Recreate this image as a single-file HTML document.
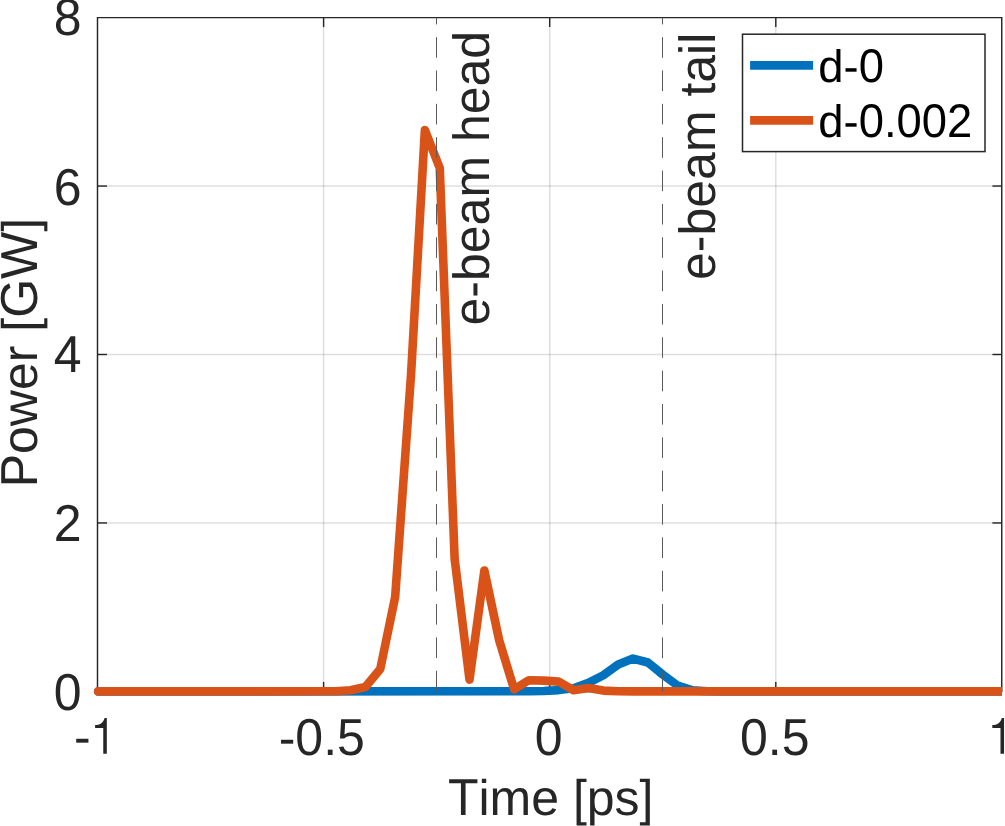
<!DOCTYPE html>
<html><head><meta charset="utf-8"><style>
html,body{margin:0;padding:0;background:#fff;}
body{width:1005px;height:826px;overflow:hidden;}
svg{display:block;}
text{font-family:"Liberation Sans",sans-serif;font-kerning:none;white-space:pre;text-rendering:geometricPrecision;}
</style></head><body>
<svg width="1005" height="826" viewBox="0 0 1005 826">
<rect width="1005" height="826" fill="#fff"/>
<defs><clipPath id="cp"><rect x="0" y="0" width="1001.90" height="826"/></clipPath></defs>

<g stroke="#262626" stroke-opacity="0.15" stroke-width="1.5"><line x1="323.60" y1="17.60" x2="323.60" y2="691.40"/><line x1="549.70" y1="17.60" x2="549.70" y2="691.40"/><line x1="775.80" y1="17.60" x2="775.80" y2="691.40"/><line x1="97.50" y1="522.95" x2="1001.90" y2="522.95"/><line x1="97.50" y1="354.50" x2="1001.90" y2="354.50"/><line x1="97.50" y1="186.05" x2="1001.90" y2="186.05"/></g>
<g stroke="#262626" stroke-width="1.4"><line x1="323.60" y1="691.40" x2="323.60" y2="681.90"/><line x1="323.60" y1="17.60" x2="323.60" y2="27.10"/><line x1="549.70" y1="691.40" x2="549.70" y2="681.90"/><line x1="549.70" y1="17.60" x2="549.70" y2="27.10"/><line x1="775.80" y1="691.40" x2="775.80" y2="681.90"/><line x1="775.80" y1="17.60" x2="775.80" y2="27.10"/><line x1="97.50" y1="522.95" x2="107.00" y2="522.95"/><line x1="1001.90" y1="522.95" x2="992.40" y2="522.95"/><line x1="97.50" y1="354.50" x2="107.00" y2="354.50"/><line x1="1001.90" y1="354.50" x2="992.40" y2="354.50"/><line x1="97.50" y1="186.05" x2="107.00" y2="186.05"/><line x1="1001.90" y1="186.05" x2="992.40" y2="186.05"/></g>
<path d="M97.50,691.40 L97.50,17.60 L1001.75,17.60 L1001.75,691.40 Z" fill="none" stroke="#262626" stroke-width="1.45"/>
<g clip-path="url(#cp)" fill="none" stroke-width="8.6" stroke-linejoin="round" stroke-linecap="round">
<polyline points="98.10,691.40 528.97,691.20 543.84,691.00 558.71,690.10 573.58,688.30 588.45,682.90 603.32,675.20 618.19,664.40 633.06,658.60 647.93,662.50 662.80,674.60 677.67,685.60 692.54,690.40 707.41,691.30 722.28,691.40 1011.90,691.40" stroke="#0072BD"/>
<polyline points="98.10,691.40 335.66,691.30 350.53,690.30 365.40,687.00 380.27,669.00 395.14,597.20 411.05,374.50 424.88,130.00 439.75,168.00 454.62,558.70 469.49,679.60 484.36,570.50 499.23,640.50 514.10,689.30 528.97,680.20 543.84,680.60 558.71,681.60 573.58,690.30 588.45,688.10 603.32,690.60 618.19,691.20 633.06,691.40 1011.90,691.40" stroke="#D95319"/>
</g>
<line x1="436.50" y1="691.40" x2="436.50" y2="17.60" stroke="#5a5a5a" stroke-width="1" stroke-dasharray="20.6 12.75"/>
<line x1="662.50" y1="691.40" x2="662.50" y2="17.60" stroke="#5a5a5a" stroke-width="1" stroke-dasharray="20.6 12.75"/>
<text transform="translate(74.10,754.00) translate(0.00,0.00) scale(1,1.0)" fill="#262626" font-size="50">-</text>
<text transform="translate(321.80,755.00) translate(-43.08,0.00) scale(1,1.0)" fill="#262626" font-size="50">-</text><text transform="translate(321.80,755.00) translate(-26.43,0.00) scale(1,1.04)" fill="#262626" font-size="50">0</text><text transform="translate(321.80,755.00) translate(1.38,0.00) scale(1,1.0)" fill="#262626" font-size="50">.</text><text transform="translate(321.80,755.00) translate(15.27,0.00) scale(1,1.04)" fill="#262626" font-size="50">5</text>
<text transform="translate(548.70,755.00) translate(-13.90,0.00) scale(1,1.04)" fill="#262626" font-size="50">0</text>
<text transform="translate(774.70,755.00) translate(-34.75,0.00) scale(1,1.04)" fill="#262626" font-size="50">0</text><text transform="translate(774.70,755.00) translate(-6.95,0.00) scale(1,1.0)" fill="#262626" font-size="50">.</text><text transform="translate(774.70,755.00) translate(6.95,0.00) scale(1,1.04)" fill="#262626" font-size="50">5</text>
<path d="M106.82,718.10 L106.82,753.70 L103.26,753.70 L103.26,727.90 L95.10,727.90 L95.10,725.10 C99.52,725.10 103.22,723.50 104.62,718.10 Z" fill="#262626"/>
<path d="M1004.05,718.10 L1004.05,753.70 L1000.49,753.70 L1000.49,727.90 L992.33,727.90 L992.33,725.10 C996.75,725.10 1000.45,723.50 1001.85,718.10 Z" fill="#262626"/>
<text transform="translate(81.60,709.60) translate(-27.81,0.00) scale(1,1.04)" fill="#262626" font-size="50">0</text>
<text transform="translate(81.60,540.85) translate(-27.81,0.00) scale(1,1.04)" fill="#262626" font-size="50">2</text>
<text transform="translate(81.60,371.70) translate(-27.81,0.00) scale(1,1.04)" fill="#262626" font-size="50">4</text>
<text transform="translate(81.60,204.60) translate(-27.81,0.00) scale(1,1.04)" fill="#262626" font-size="50">6</text>
<text transform="translate(81.60,35.20) translate(-27.81,0.00) scale(1,1.04)" fill="#262626" font-size="50">8</text>
<text transform="translate(550.70,815.00) translate(-102.80,0.00) scale(1,1.04)" fill="#262626" font-size="50">T</text><text transform="translate(550.70,815.00) translate(-72.25,0.00) scale(1,1.0)" fill="#262626" font-size="50">ime&#160;[ps]</text>
<text transform="translate(36.60,352.60) rotate(-90) translate(-134.74,0.00) scale(1,1.04)" fill="#262626" font-size="50">P</text><text transform="translate(36.60,352.60) rotate(-90) translate(-101.39,0.00) scale(1,1.0)" fill="#262626" font-size="50">ower&#160;[</text><text transform="translate(36.60,352.60) rotate(-90) translate(34.77,0.00) scale(1,1.04)" fill="#262626" font-size="50">GW</text><text transform="translate(36.60,352.60) rotate(-90) translate(120.85,0.00) scale(1,1.0)" fill="#262626" font-size="50">]</text>
<text transform="translate(489.00,325.50) rotate(-90) translate(0.00,0.00) scale(1,1.02)" fill="#262626" font-size="50">e-beam&#160;head</text>
<text transform="translate(715.10,280.00) rotate(-90) translate(0.00,0.00) scale(1,1.02)" fill="#262626" font-size="50">e-beam&#160;tail</text>
<rect x="742.5" y="34.2" width="242.5" height="117.4" fill="#fff" stroke="#262626" stroke-width="1.5"/>
<line x1="750.1" y1="65.4" x2="813.1" y2="65.4" stroke="#0072BD" stroke-width="8.6"/>
<line x1="750.1" y1="120.4" x2="813.1" y2="120.4" stroke="#D95319" stroke-width="8.6"/>
<defs><filter id="gs" x="0" y="0" width="1" height="1"><feOffset dx="0" dy="0"/></filter></defs><g filter="url(#gs)">
<text transform="translate(818.30,81.60) translate(0.00,0.00) scale(1,1.0)" fill="#000" font-size="45.4">d-</text><text transform="translate(818.30,81.60) translate(40.37,0.00) scale(1,1.04)" fill="#000" font-size="45.4">0</text>
<text transform="translate(818.30,136.50) translate(0.00,0.00) scale(1,1.0)" fill="#000" font-size="45.4">d-</text><text transform="translate(818.30,136.50) translate(40.37,0.00) scale(1,1.04)" fill="#000" font-size="45.4">0</text><text transform="translate(818.30,136.50) translate(65.62,0.00) scale(1,1.0)" fill="#000" font-size="45.4">.</text><text transform="translate(818.30,136.50) translate(78.23,0.00) scale(1,1.04)" fill="#000" font-size="45.4">002</text>
</g>
</svg></body></html>
